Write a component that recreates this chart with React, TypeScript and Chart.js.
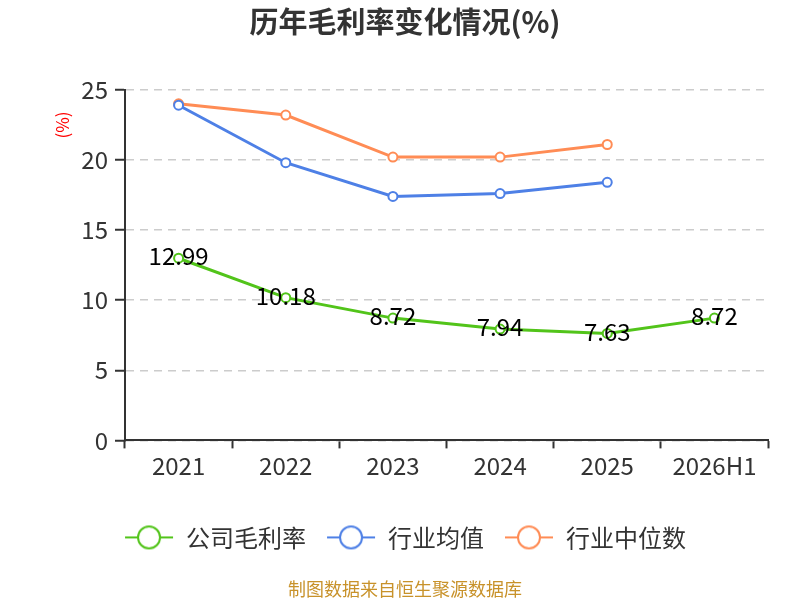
import { useEffect, useRef } from "react";
import { Chart, registerables } from "chart.js";

Chart.register(...registerables);

const categories = ["2021", "2022", "2023", "2024", "2025", "2026H1"];
const companyMargin = [12.99, 10.18, 8.72, 7.94, 7.63, 8.72];
const industryMean = [23.9, 19.8, 17.4, 17.6, 18.4, null];
const industryMedian = [24.0, 23.2, 20.2, 20.2, 21.1, null];
const seriesNames = ["公司毛利率", "行业均值", "行业中位数"];
const seriesColors = ["#52c41a", "#4e80e6", "#ff8c55"];

const FONT = "'Noto Sans CJK SC', 'Noto Sans', sans-serif";

// legend icon: short line with a hollow circle in the middle
function legendIcon(color: string) {
  const c = document.createElement("canvas");
  c.width = 50;
  c.height = 26;
  const ctx = c.getContext("2d")!;
  ctx.strokeStyle = color;
  ctx.lineWidth = 2;
  ctx.beginPath();
  ctx.moveTo(1, 13);
  ctx.lineTo(49, 13);
  ctx.stroke();
  ctx.fillStyle = "#fff";
  ctx.beginPath();
  ctx.arc(25, 13, 11, 0, Math.PI * 2);
  ctx.fill();
  ctx.stroke();
  return c;
}

const extrasPlugin = {
  id: "extras",
  afterDatasetsDraw(chart: any) {
    const ctx = chart.ctx;
    ctx.save();
    // value labels for the company series
    const meta = chart.getDatasetMeta(0);
    ctx.font = `24px ${FONT}`;
    ctx.fillStyle = "#000";
    ctx.textAlign = "center";
    ctx.textBaseline = "middle";
    meta.data.forEach((pt: any, i: number) => {
      const v = companyMargin[i];
      ctx.fillText(v.toFixed(2), pt.x, pt.y - 2);
    });
    // y axis unit
    ctx.translate(63, 125);
    ctx.rotate(-Math.PI / 2);
    ctx.font = `17px ${FONT}`;
    ctx.fillStyle = "#ff0000";
    ctx.fillText("(%)", 0, 0);
    ctx.restore();
  },
};

export default function App() {
  const canvasRef = useRef<HTMLCanvasElement | null>(null);

  useEffect(() => {
    if (canvasRef.current == null) return;
    const datasets = [companyMargin, industryMean, industryMedian].map((d, i) => ({
      label: seriesNames[i],
      data: d,
      borderColor: seriesColors[i],
      backgroundColor: "#fff",
      borderWidth: 3,
      pointRadius: 4.5,
      pointBorderWidth: 2,
      pointBackgroundColor: "#fff",
      pointStyle: "circle",
      legendIcon: legendIcon(seriesColors[i]),
      tension: 0,
    }));

    const chart = new Chart(canvasRef.current, {
      type: "line",
      data: { labels: categories, datasets: datasets as any },
      plugins: [extrasPlugin],
      options: {
        responsive: false,
        animation: false,
        layout: { padding: { left: 42, right: 32, top: 0, bottom: 0 } },
        plugins: {
          title: {
            display: true,
            text: "历年毛利率变化情况(%)",
            color: "#333",
            font: { family: FONT, size: 29, weight: "bold" },
            padding: { top: 5, bottom: 50 },
          },
          subtitle: {
            display: true,
            position: "bottom",
            text: "制图数据来自恒生聚源数据库",
            color: "#c8922a",
            font: { family: FONT, size: 18 },
            padding: { top: 19, bottom: 0 },
          },
          legend: {
            position: "bottom",
            labels: {
              usePointStyle: true,
              pointStyleWidth: 50,
              boxHeight: 24,
              color: "#333",
              font: { family: FONT, size: 24 },
              padding: 20,
              generateLabels: (c: any) =>
                c.data.datasets.map((ds: any, i: number) => ({
                  text: ds.label,
                  pointStyle: ds.legendIcon,
                  fillStyle: "#fff",
                  strokeStyle: ds.borderColor,
                  lineWidth: 0,
                  fontColor: "#333",
                  hidden: false,
                  datasetIndex: i,
                })),
            },
          },
          tooltip: { enabled: false },
        },
        scales: {
          x: {
            offset: true,
            grid: {
              offset: true,
              drawOnChartArea: false,
              drawTicks: true,
              tickLength: 8,
              tickColor: "#333",
              tickWidth: 2,
            },
            border: { color: "#333", width: 2 },
            ticks: {
              color: "#333",
              font: { family: FONT, size: 24 },
              padding: 3,
            },
            afterFit: (s: any) => {
              s.height = 65;
            },
          },
          y: {
            min: 0,
            max: 25,
            ticks: {
              stepSize: 5,
              color: "#333",
              font: { family: FONT, size: 24 },
              padding: 7,
            },
            grid: {
              color: "#cccccc",
              lineWidth: 1.5,
              tickColor: "#333",
              tickWidth: 2,
              tickLength: 10,
            },
            border: { color: "#333", width: 2, dash: [8, 6] },
            afterFit: (s: any) => {
              s.width = 83;
            },
          },
        },
      },
    });

    return () => {
      chart.destroy();
    };
  }, []);

  return (
    <div style={{ position: "fixed", left: 0, top: 0, width: 800, height: 600, background: "#fff" }}>
      <canvas ref={canvasRef} width={800} height={600} style={{ width: 800, height: 600 }}></canvas>
    </div>
  );
}
